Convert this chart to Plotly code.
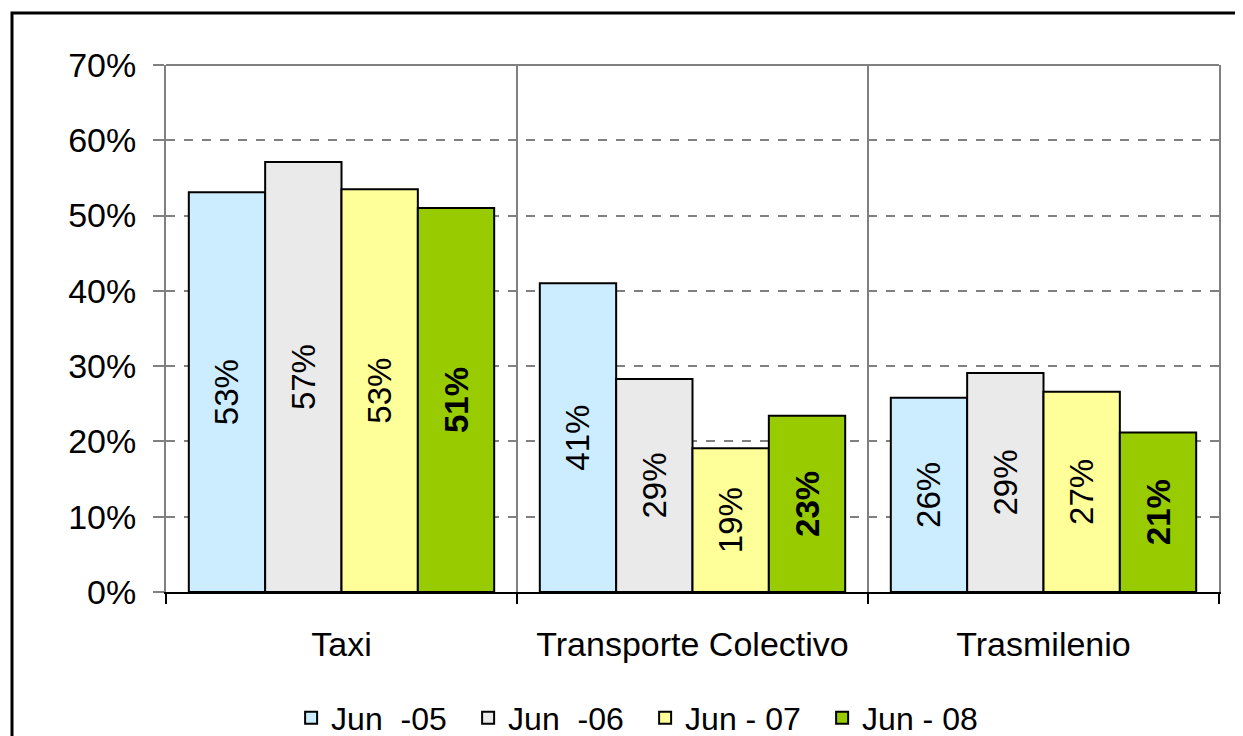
import plotly.graph_objects as go

categories = ["Taxi", "Transporte Colectivo", "Trasmilenio"]
series_names = ["Jun\u00a0\u00a0-05", "Jun\u00a0\u00a0-06", "Jun - 07", "Jun - 08"]
values_jun05 = [53.1, 41.0, 25.8]
values_jun06 = [57.1, 28.3, 29.1]
values_jun07 = [53.5, 19.1, 26.6]
values_jun08 = [51.0, 23.4, 21.2]
labels_jun05 = ["53%", "41%", "26%"]
labels_jun06 = ["57%", "29%", "29%"]
labels_jun07 = ["53%", "19%", "27%"]
labels_jun08 = ["51%", "23%", "21%"]
y_ticks = [0, 10, 20, 30, 40, 50, 60, 70]
y_tick_labels = ["0%", "10%", "20%", "30%", "40%", "50%", "60%", "70%"]

colors = ["#CCECFF", "#EAEAEA", "#FFFF99", "#99CC00"]
series_values = [values_jun05, values_jun06, values_jun07, values_jun08]
series_labels = [labels_jun05, labels_jun06, labels_jun07, labels_jun08]

FONT = "Liberation Sans, Arial, sans-serif"

fig = go.Figure()
for i, (name, vals, labs, col) in enumerate(zip(series_names, series_values, series_labels, colors)):
    bold = i == 3
    fig.add_trace(go.Bar(
        name=name,
        x=categories,
        y=vals,
        text=[f"<b>{t}</b>" if bold else t for t in labs],
        texttemplate="%{text}",
        textposition="inside",
        insidetextanchor="middle",
        textangle=-90,
        constraintext="none",
        textfont=dict(family=FONT, size=33, color="black"),
        marker=dict(color=col, line=dict(color="black", width=2)),
        hoverinfo="skip",
    ))

# page has an 8px body margin; compensate so the plot area lands at 166..1219 x 65..592
fig.update_layout(
    width=1235, height=728,
    margin=dict(l=158, r=24, t=57, b=144, autoexpand=False),
    paper_bgcolor="white", plot_bgcolor="white",
    barmode="group", bargap=0.13, bargroupgap=0,
    font=dict(family=FONT, size=34, color="black"),
    showlegend=True,
    legend=dict(orientation="h", x=0.455, xanchor="center", y=-0.239, yanchor="middle",
                font=dict(family=FONT, size=32, color="black"),
                itemwidth=30, entrywidth=132, entrywidthmode="pixels",
                tracegroupgap=0, traceorder="normal"),
    xaxis=dict(
        type="category", tickson="boundaries",
        showgrid=True, gridcolor="#808080", gridwidth=1.5,
        showline=True, linecolor="black", linewidth=2,
        ticks="outside", ticklen=10, tickwidth=2, tickcolor="black",
        tickfont=dict(family=FONT, size=34, color="black"),
        ticklabelstandoff=21,
    ),
    yaxis=dict(
        range=[0, 70], tickmode="array", tickvals=y_ticks, ticktext=y_tick_labels,
        showgrid=True, gridcolor="#808080", gridwidth=2, griddash="dash",
        showline=True, linecolor="#808080", linewidth=2, mirror=True,
        ticks="outside", ticklen=11, tickwidth=2, tickcolor="#808080",
        tickfont=dict(family=FONT, size=34, color="black"),
        ticklabelstandoff=10, zeroline=False,
    ),
    shapes=[
        dict(type="line", xref="paper", yref="paper", x0=0, x1=1, y0=1, y1=1,
             line=dict(color="#808080", width=2)),
        dict(type="rect", xref="paper", yref="paper",
             x0=(12 - 166) / 1053, x1=1.2, y0=-0.5, y1=1 + 52 / 527,
             line=dict(color="black", width=3), layer="below"),
    ],
)

fig.write_html("out.html")
